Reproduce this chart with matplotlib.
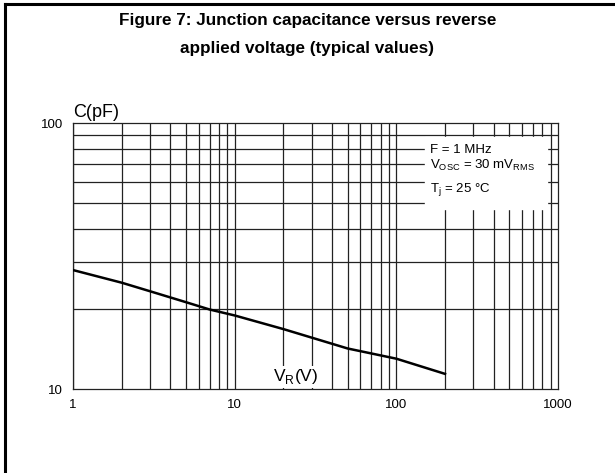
import numpy as np
import matplotlib.pyplot as plt
from matplotlib.lines import Line2D

plt.rcParams['font.family'] = ['Liberation Sans', 'DejaVu Sans']

# Typical junction capacitance curve
vr = [1, 2, 3, 5, 7, 10, 20, 50, 100, 200]
cap = [28.0, 25.1, 23.3, 21.2, 19.9, 18.9, 16.8, 14.2, 13.0, 11.4]

x_ticks = [1, 10, 100, 1000]
x_labels = ['1', '10', '100', '1000']
y_ticks = [10, 100]
y_labels = ['10', '100']

fig = plt.figure(figsize=(6.15, 4.73), dpi=100)
ax = fig.add_axes([73 / 615, 1 - 389 / 473, (558 - 73) / 615, (389 - 123) / 473])

ax.set_xscale('log')
ax.set_yscale('log')
ax.set_xlim(1, 1000)
ax.set_ylim(10, 100)

# Grid on every minor decade value
for dec in [1, 10, 100]:
    for m in range(1, 10):
        ax.axvline(dec * m, color='#222222', lw=0.9, zorder=1)
for m in range(2, 10):
    ax.axhline(10 * m, color='#222222', lw=0.9, zorder=1)

ax.plot(vr, cap, color='black', lw=1.8, zorder=3)

ax.set_xticks(x_ticks)
ax.set_xticklabels(x_labels)
ax.set_yticks(y_ticks)
ax.set_yticklabels(y_labels)
ax.minorticks_off()
ax.tick_params(length=0, labelsize=9.5, pad=7)
for s in ax.spines.values():
    s.set_color('#222222')
    s.set_linewidth(0.9)

# white box with test conditions
ax.fill([150, 850, 850, 150], [47.5, 47.5, 88.5, 88.5], color='white', zorder=2)
ax.text(162, 79.5, 'F = 1 MHz', fontsize=9.5, va='center', zorder=4)
ax.text(162, 69.5, r'V$_{\mathregular{OSC}}$ = 30 mV$_{\mathregular{RMS}}$', fontsize=9.5,
        va='center', zorder=4)
ax.text(162, 56, r'T$_{\mathregular{j}}$ = 25 °C', fontsize=9.5, va='center', zorder=4)

ax.text(17.3, 11.1, r'V$_{\mathregular{R}}$(V)', fontsize=12.5, va='center', zorder=4,
        bbox=dict(facecolor='white', edgecolor='none', pad=1))
ax.text(1.0, 101.5, 'C(pF)', fontsize=13, va='bottom', ha='left')

fig.text(0.5, 1 - 20 / 473, 'Figure 7: Junction capacitance versus reverse',
         ha='center', va='center', fontsize=12.3, fontweight='bold')
fig.text(0.5, 1 - 48 / 473, 'applied voltage (typical values)',
         ha='center', va='center', fontsize=12.3, fontweight='bold')

# frame lines on left and top of figure
fig.add_artist(Line2D([5 / 615, 5 / 615], [0, 1 - 4 / 473], color='black', lw=2.2))
fig.add_artist(Line2D([5 / 615, 1], [1 - 4 / 473, 1 - 4 / 473], color='black', lw=2.2))

fig.savefig('out.png', dpi=100)
